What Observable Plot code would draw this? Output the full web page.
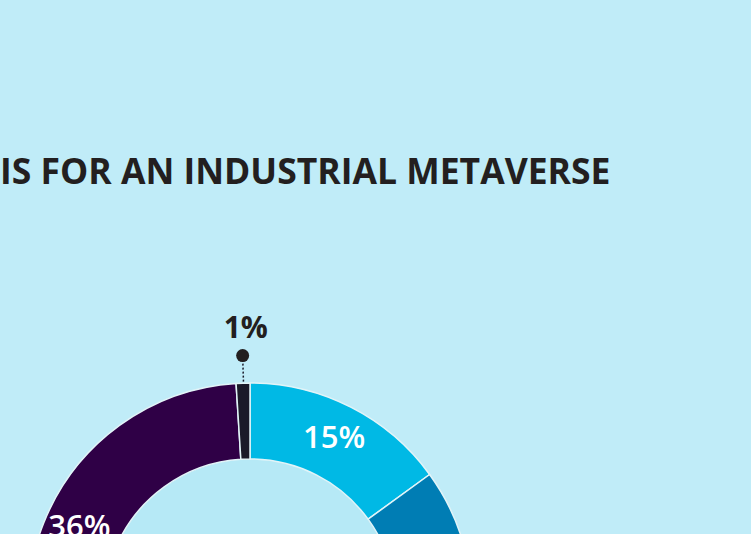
<!DOCTYPE html>
<html><head><meta charset="utf-8">
<script src="https://cdn.jsdelivr.net/npm/d3@7"></script>
<script src="https://cdn.jsdelivr.net/npm/@observablehq/plot@0.6"></script>
<style>html,body{margin:0;padding:0;background:#c0ecf8;overflow:hidden}</style>
</head><body><div id="chart"></div>
<script>
// ---- data ----
const titleText = "ANALYSIS FOR AN INDUSTRIAL METAVERSE";
const categories = ["Segment A", "Segment B", "Segment C", "Segment D", "Segment E"];
const shares = [15, 28, 20, 36, 1];
const sliceColors = ["#00b9e5", "#007db4", "#4a2a78", "#2f0046", "#1b1a29"];

// ---- layout ----
const W = 751, H = 534;
const cx = 250, cy = 605, R = 222, r0 = 146;

const arcsData = d3.pie().sort(null).value(d => d.value).startAngle(0).endAngle(2 * Math.PI)(
  categories.map((c, i) => ({category: c, value: shares[i], color: sliceColors[i]}))
).map(a => ({...a.data, startAngle: a.startAngle, endAngle: a.endAngle, mid: (a.startAngle + a.endAngle) / 2}));

const inside = arcsData.filter(d => d.value >= 5);
const outside = arcsData.filter(d => d.value < 5);
const rMid = (R + r0) / 2;

function donutMark(index, scales, values, dims, context) {
  const g = d3.create("svg:g");
  const X = scales.x(cx), Y = scales.y(cy);
  const k = scales.x(1) - scales.x(0);
  g.append("circle").attr("cx", X).attr("cy", Y).attr("r", r0 * k).attr("fill", "#b6e9f6");
  const arc = d3.arc().innerRadius(r0 * k).outerRadius(R * k);
  g.selectAll("path").data(arcsData).join("path")
    .attr("transform", `translate(${X},${Y})`)
    .attr("d", d => arc(d))
    .attr("fill", d => d.color)
    .attr("stroke", "#e2f4f8")
    .attr("stroke-width", 1.5);
  return g.node();
}

const chart = Plot.plot({
  width: W, height: H,
  margin: 0,
  x: {domain: [0, W], range: [0, W], axis: null},
  y: {domain: [0, H], range: [0, H], axis: null},
  style: {background: "#c0ecf8", fontFamily: "'Open Sans', sans-serif"},
  marks: [
    Plot.text([titleText], {x: 610, y: 172, text: d => d, textAnchor: "end", fontSize: 35.5, fontWeight: 700, fill: "#231f20"}),
    donutMark,
    Plot.text(inside, {
      x: d => cx + Math.sin(d.mid) * rMid,
      y: d => cy - Math.cos(d.mid) * rMid - (d.mid > Math.PI ? 11 : 3),
      text: d => d.value + "%", fill: "white", fontSize: 31, fontWeight: 600
    }),
    Plot.link(outside, {
      x1: d => cx + Math.sin(d.mid) * (R + 28), y1: d => cy - Math.cos(d.mid) * (R + 28),
      x2: d => cx + Math.sin(d.mid) * R, y2: d => cy - Math.cos(d.mid) * R,
      stroke: "#1b1a29", strokeWidth: 1.5, strokeDasharray: "2,2"
    }),
    Plot.dot(outside, {
      x: d => cx + Math.sin(d.mid) * (R + 28), y: d => cy - Math.cos(d.mid) * (R + 28),
      r: 6.5, fill: "#231f20"
    }),
    Plot.text(outside, {
      x: d => cx + Math.sin(d.mid) * (R + 55) + 4, y: d => cy - Math.cos(d.mid) * (R + 55),
      text: d => d.value + "%", fill: "#231f20", fontSize: 30, fontWeight: 700
    })
  ]
});
document.getElementById("chart").appendChild(chart);
</script>
</body></html>
